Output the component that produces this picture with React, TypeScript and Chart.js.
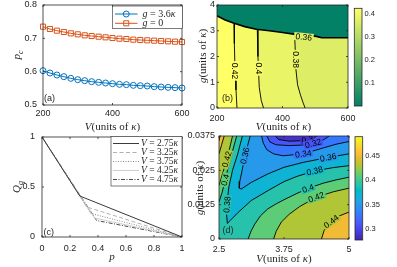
import React, { useEffect, useRef } from 'react';
import { Chart, registerables } from 'chart.js';

Chart.register(...registerables);

// ---------------- Panel (a) data ----------------
const vA = [200, 220, 240, 260, 280, 300, 320, 340, 360, 380, 400, 420, 440, 460, 480, 500, 520, 540, 560, 580, 600];
const pcG36 = [0.603, 0.596, 0.59, 0.585, 0.58, 0.576, 0.573, 0.57, 0.568, 0.566, 0.564, 0.562, 0.561, 0.559, 0.558, 0.557, 0.555, 0.554, 0.553, 0.552, 0.551];
const pcG0 = [0.735, 0.728, 0.723, 0.719, 0.715, 0.712, 0.709, 0.707, 0.705, 0.703, 0.701, 0.699, 0.698, 0.696, 0.695, 0.694, 0.693, 0.692, 0.691, 0.69, 0.689];
const seriesA = ['g = 3.6κ', 'g = 0'];
const ticksAX = [200, 400, 600];
const ticksAY = [0.5, 0.6, 0.7, 0.8];

// ---------------- Panel (b) data (contour lines, V vs g) ----------------
const bBoundary = [[200, 3.58], [225, 3.42], [250, 3.3], [285, 3.16], [320, 3.06], [360, 3.0], [400, 2.93], [440, 2.86], [470, 2.82], [500, 2.79], [520, 2.73], [600, 2.73]];
const bC042 = [[252, 3.29], [253, 2.5], [255, 1.5], [258, 0.7], [261, 0]];
const bC040 = [[323, 3.05], [325, 2.0], [329, 0.8], [335, 0.3], [342, 0]];
const bC038 = [[437, 2.865], [439, 2.2], [441, 1.5], [446, 0.9], [455, 0.5], [463, 0.2], [469, 0]];
// label: text, V, g, angle, band value behind
const bLabels = [['0.42', 255, 1.44, 90, 0.425], ['0.4', 326.5, 1.54, 90, 0.41], ['0.38', 440, 1.88, 90, 0.39], ['0.36', 465, 2.76, 6, 0.37]];
const ticksBX = [200, 400, 600];
const ticksBY = [0, 1, 2, 3, 4];
const cbB = [0, 0.426];
const cbBTicks = [0.1, 0.2, 0.3, 0.4];

// ---------------- Panel (c) data ----------------
const pEnds = [0, 1];
const qEnds = [1, 0];
const cKinkP = [0.27, 0.32, 0.35, 0.375, 0.39];
const cKinkQ = [0.41, 0.3, 0.235, 0.19, 0.165];
const seriesC = ['V = 2.75κ', 'V = 3.25κ', 'V = 3.75κ', 'V = 4.25κ', 'V = 4.75κ'];
const ticksCX = [0, 0.2, 0.4, 0.6, 0.8, 1];
const ticksCY = [0, 0.5, 1];

// ---------------- Panel (d) data (contour lines, V vs g) ----------------
const dC046L = [[2.5, 0.0357], [2.52, 0.0375]];
const dC044L = [[2.5, 0.031], [2.55, 0.0343], [2.6, 0.0375]];
const dC042L = [[2.5, 0.0195], [2.58, 0.0245], [2.65, 0.029], [2.71, 0.0335], [2.76, 0.0375]];
const dC040L = [[2.5, 0.0135], [2.56, 0.017], [2.62, 0.0215], [2.68, 0.0265], [2.76, 0.032], [2.84, 0.0375]];
const dC038 = [[2.95, 0.0375], [2.86, 0.031], [2.76, 0.025], [2.69, 0.019], [2.66, 0.014], [2.645, 0.009], [2.66, 0.0057], [2.72, 0.0068], [2.87, 0.0097], [3.12, 0.014], [3.44, 0.0176], [3.75, 0.0209], [4.0, 0.0228], [4.34, 0.0248], [4.7, 0.026], [5.0, 0.0267]];
const dC036 = [[3.1, 0.0375], [3.05, 0.034], [3.0, 0.0303], [2.95, 0.0255], [2.9, 0.021], [2.89, 0.0185], [2.93, 0.0182], [3.12, 0.0206], [3.44, 0.0237], [3.75, 0.0261], [4.12, 0.0279], [4.6, 0.0297], [5.0, 0.031]];
const dC034 = [[3.32, 0.0375], [3.35, 0.035], [3.42, 0.0325], [3.55, 0.031], [3.73, 0.0303], [4.12, 0.031], [4.44, 0.0328], [4.75, 0.0345], [5.0, 0.0355]];
const dC032 = [[3.42, 0.0375], [3.48, 0.0353], [3.6, 0.0343], [3.85, 0.034], [4.1, 0.0342], [4.31, 0.0348], [4.5, 0.036], [4.62, 0.0375]];
const dC030 = [[3.58, 0.0375], [3.65, 0.0362], [3.85, 0.0356], [4.1, 0.0358], [4.3, 0.0366], [4.38, 0.0375]];
const dC040B = [[3.06, 0], [3.12, 0.003], [3.19, 0.0055], [3.3, 0.0085], [3.44, 0.011], [3.6, 0.0128], [3.75, 0.0143], [4.0, 0.0166], [4.21, 0.0184], [4.5, 0.0203], [4.75, 0.0215], [5.0, 0.0225]];
const dC042B = [[3.55, 0], [3.6, 0.0028], [3.7, 0.0062], [3.85, 0.009], [4.05, 0.0118], [4.37, 0.0152], [4.7, 0.0172], [5.0, 0.0185]];
const dC044B = [[4.47, 0], [4.52, 0.003], [4.62, 0.0058], [4.8, 0.0083], [5.0, 0.0098]];
const dLabels = [
  ['0.3', 4.2, 0.0362, -12, 0.289], ['0.32', 4.31, 0.0348, -14, 0.31], ['0.34', 4.12, 0.031, -8, 0.33],
  ['0.36', 4.6, 0.0297, -10, 0.35], ['0.38', 4.34, 0.0248, -13, 0.37], ['0.4', 4.21, 0.0184, -18, 0.39],
  ['0.42', 4.37, 0.0152, -20, 0.41], ['0.44', 4.66, 0.0064, -38, 0.43], ['0.36', 3.0, 0.0303, -76, 0.35],
  ['0.42', 2.65, 0.029, -74, 0.43], ['0.4', 2.62, 0.0215, -76, 0.41], ['0.38', 2.655, 0.0125, -86, 0.39],
];
const ticksDX = [2.5, 3.75, 5];
const ticksDY = [0, 0.0125, 0.025, 0.0375];
const cbD = [0.278, 0.489];
const cbDTicks = [0.3, 0.35, 0.4, 0.45];

// ---------------- styling ----------------
const SANS = '"Liberation Sans", Arial, sans-serif';
const SERIF = '"Liberation Serif", "DejaVu Serif", serif';
const TXT = '#262626';
const FRAME = '#262626';
const BLUE = 'rgb(0,114,189)';
const ORANGE = 'rgb(217,83,25)';
const TICK_FONT = 9;

const PARULA = [
  [0.2422, 0.1504, 0.6603], [0.2647, 0.1978, 0.7952], [0.2783, 0.2559, 0.8991], [0.281, 0.3228, 0.9579],
  [0.2699, 0.3892, 0.9906], [0.2206, 0.4603, 0.9973], [0.1786, 0.5289, 0.9682], [0.154, 0.5902, 0.9218],
  [0.1248, 0.6459, 0.8883], [0.0689, 0.6948, 0.8394], [0.0067, 0.7312, 0.766], [0.1408, 0.7584, 0.6842],
  [0.2161, 0.7843, 0.5923], [0.3406, 0.8008, 0.4789], [0.5044, 0.7993, 0.348], [0.672, 0.7793, 0.2227],
  [0.8203, 0.7498, 0.1535], [0.9393, 0.7288, 0.21], [0.997, 0.7659, 0.2199], [0.9786, 0.8386, 0.1766],
  [0.9597, 0.9135, 0.1423], [0.9769, 0.9839, 0.0805],
];
const SUMMER = [[0, 0.5, 0.4], [1, 1, 0.4]];

function cmap(tab: number[][], t: number) {
  t = Math.max(0, Math.min(1, t));
  const f = t * (tab.length - 1);
  const i = Math.min(Math.floor(f), tab.length - 2);
  const u = f - i;
  const c = tab[i].map((v, k) => v + (tab[i + 1][k] - v) * u);
  return `rgb(${Math.round(c[0] * 255)},${Math.round(c[1] * 255)},${Math.round(c[2] * 255)})`;
}
const bandB = (v: number) => cmap(SUMMER, (v - cbB[0]) / (cbB[1] - cbB[0]));
const bandD = (v: number) => cmap(PARULA, (v - cbD[0]) / (cbD[1] - cbD[0]));

const fmt = (v: any) => String(parseFloat(Number(v).toPrecision(6)));

type Part = { t: string; it?: boolean; sub?: boolean };

function mathParts(s: string): Part[] {
  const out: Part[] = [];
  for (const ch of s) {
    const it = /[A-Za-zα-ω]/.test(ch);
    const last = out[out.length - 1];
    if (last && !last.it && !it) last.t += ch;
    else out.push({ t: ch, it });
  }
  return out;
}

function drawRich(ctx: any, parts: Part[], x: number, y: number, size: number, align: string, rot: number, fam?: string) {
  ctx.save();
  ctx.translate(x, y);
  if (rot) ctx.rotate((rot * Math.PI) / 180);
  const family = fam || SERIF;
  const fontOf = (p: Part) => `${p.it ? 'italic ' : ''}${p.sub ? Math.round(size * 0.72) : size}px ${family}`;
  let w = 0;
  for (const p of parts) {
    ctx.font = fontOf(p);
    w += ctx.measureText(p.t).width;
  }
  let cx = align === 'center' ? -w / 2 : align === 'right' ? -w : 0;
  ctx.textBaseline = 'middle';
  ctx.textAlign = 'left';
  ctx.fillStyle = TXT;
  for (const p of parts) {
    ctx.font = fontOf(p);
    ctx.fillText(p.t, cx, p.sub ? size * 0.32 : 0);
    cx += ctx.measureText(p.t).width;
  }
  ctx.restore();
}

type RText = { parts: Part[]; x: number; y: number; rot?: number; size: number; align?: string; fam?: string };
type Leg = { box: number[]; rows: { y: number; ds: number }[]; lx: number[]; tx: number; size: number };
type Deco = { ox: number; oy: number; ticksX?: number[]; ticksY?: number[]; tl?: number; labels?: any[]; labelBg?: (v: number) => string; texts?: RText[]; legend?: Leg; frame?: boolean };

function decor(d: Deco) {
  return {
    id: 'decor',
    afterDraw(chart: any) {
      const ctx = chart.ctx;
      const ca = chart.chartArea;
      const xs = chart.scales.x;
      const ys = chart.scales.y;
      ctx.save();
      if (d.labels) {
        ctx.save();
        ctx.beginPath();
        ctx.rect(ca.left, ca.top, ca.right - ca.left, ca.bottom - ca.top);
        ctx.clip();
        ctx.font = `8.5px ${SANS}`;
        ctx.textAlign = 'center';
        ctx.textBaseline = 'middle';
        for (const [t, x, y, a, lv] of d.labels) {
          const px = xs.getPixelForValue(x);
          const py = ys.getPixelForValue(y);
          ctx.save();
          ctx.translate(px, py);
          ctx.rotate((a * Math.PI) / 180);
          const w = ctx.measureText(t).width;
          ctx.fillStyle = d.labelBg ? d.labelBg(lv) : '#fff';
          ctx.fillRect(-w / 2 - 1.5, -4, w + 3, 8);
          ctx.fillStyle = '#000';
          ctx.fillText(t, 0, 0.5);
          ctx.restore();
        }
        ctx.restore();
      }
      if (d.frame !== false) {
        ctx.strokeStyle = FRAME;
        ctx.lineWidth = 0.8;
        ctx.strokeRect(ca.left, ca.top, ca.right - ca.left, ca.bottom - ca.top);
        const tl = d.tl ?? 2;
        ctx.beginPath();
        (d.ticksX || []).forEach((v) => {
          const x = xs.getPixelForValue(v);
          ctx.moveTo(x, ca.bottom); ctx.lineTo(x, ca.bottom - tl);
          ctx.moveTo(x, ca.top); ctx.lineTo(x, ca.top + tl);
        });
        (d.ticksY || []).forEach((v) => {
          const y = ys.getPixelForValue(v);
          ctx.moveTo(ca.left, y); ctx.lineTo(ca.left + tl, y);
          ctx.moveTo(ca.right, y); ctx.lineTo(ca.right - tl, y);
        });
        ctx.stroke();
      }
      if (d.legend) {
        const L = d.legend;
        const x1 = L.box[0] - d.ox, y1 = L.box[1] - d.oy, x2 = L.box[2] - d.ox, y2 = L.box[3] - d.oy;
        ctx.fillStyle = '#fff';
        ctx.fillRect(x1, y1, x2 - x1, y2 - y1);
        ctx.strokeStyle = FRAME;
        ctx.lineWidth = 0.6;
        ctx.strokeRect(x1, y1, x2 - x1, y2 - y1);
        for (const r of L.rows) {
          const ds = chart.data.datasets[r.ds];
          const y = r.y - d.oy;
          const lx1 = L.lx[0] - d.ox, lx2 = L.lx[1] - d.ox;
          ctx.save();
          ctx.strokeStyle = ds.borderColor;
          ctx.lineWidth = ds.borderWidth;
          ctx.setLineDash(ds.borderDash || []);
          ctx.beginPath(); ctx.moveTo(lx1, y); ctx.lineTo(lx2, y); ctx.stroke();
          ctx.setLineDash([]);
          if (ds.pointRadius > 0) {
            const mx = (lx1 + lx2) / 2;
            const r0 = ds.pointRadius;
            ctx.lineWidth = ds.pointBorderWidth || 1;
            ctx.beginPath();
            if (ds.pointStyle === 'rect') {
              const s = r0 * Math.SQRT1_2;
              ctx.rect(mx - s, y - s, 2 * s, 2 * s);
            } else ctx.arc(mx, y, r0, 0, Math.PI * 2);
            ctx.stroke();
          }
          ctx.restore();
          drawRich(ctx, mathParts(ds.label), L.tx - d.ox, y, L.size, 'left', 0);
        }
      }
      for (const r of d.texts || []) drawRich(ctx, r.parts, r.x - d.ox, r.y - d.oy, r.size, r.align || 'center', r.rot || 0, r.fam);
      ctx.restore();
    },
  };
}

function axis(o: { min: number; max: number; ticks: number[]; size: number; pad: number; pos: string; font?: number }) {
  return {
    type: 'linear',
    position: o.pos,
    min: o.min,
    max: o.max,
    grid: { display: false, drawTicks: false },
    border: { display: false },
    ticks: { padding: o.pad, color: TXT, font: { family: SANS, size: o.font ?? TICK_FONT }, autoSkip: false, maxRotation: 0, minRotation: 0, callback: (v: any) => fmt(v) },
    afterBuildTicks: (s: any) => { s.ticks = o.ticks.map((value) => ({ value })); },
    afterFit: (s: any) => {
      if (s.isHorizontal()) s.height = o.size; else s.width = o.size;
      s.paddingLeft = 0; s.paddingRight = 0; s.paddingTop = 0; s.paddingBottom = 0;
    },
  };
}

const baseOpts = (padding: any, scales: any) => ({
  animation: false,
  responsive: false,
  devicePixelRatio: 1,
  events: [],
  layout: { padding },
  plugins: { legend: { display: false }, tooltip: { enabled: false } },
  scales,
});

const pts = (a: number[][]) => a.map(([x, y]) => ({ x, y }));
function polyData(a: number[][]) {
  let iMin = 0, iMax = 0;
  a.forEach((p, i) => { if (p[0] < a[iMin][0]) iMin = i; if (p[0] > a[iMax][0]) iMax = i; });
  const rot = a.slice(iMin).concat(a.slice(0, iMin));
  return pts(rot.concat([a[iMin], a[iMax]]));
}
const fillDs = (poly: number[][], color: string, order: number) => ({
  data: polyData(poly), fill: 'shape', backgroundColor: color, borderColor: 'rgba(0,0,0,0)', borderWidth: 0,
  pointRadius: 0, order, clip: false, tension: 0,
});
const lineDs = (a: number[][], w = 0.9) => ({
  data: pts(a), fill: false, borderColor: '#000', borderWidth: w, pointRadius: 0, order: 0, tension: 0,
});

const T_V: Part[] = [{ t: 'V', it: true }, { t: '(units of ' }, { t: 'κ', it: true }, { t: ')' }];
const T_G: Part[] = [{ t: 'g', it: true }, { t: '(units of ' }, { t: 'κ', it: true }, { t: ')' }];
const T_PC: Part[] = [{ t: 'p', it: true }, { t: 'c', it: true, sub: true }];
const T_QQ: Part[] = [{ t: 'Q', it: true }, { t: 'q', it: true, sub: true }];
const T_P: Part[] = [{ t: 'p', it: true }];

function configA() {
  const ox = 0, oy = 0;
  return {
    type: 'line',
    data: {
      datasets: [
        { label: seriesA[0], data: vA.map((x, i) => ({ x, y: pcG36[i] })), borderColor: BLUE, borderWidth: 1, pointStyle: 'circle', pointRadius: 3, pointBorderWidth: 1, pointBorderColor: BLUE, pointBackgroundColor: 'rgba(0,0,0,0)', clip: false, fill: false },
        { label: seriesA[1], data: vA.map((x, i) => ({ x, y: pcG0[i] })), borderColor: ORANGE, borderWidth: 1, pointStyle: 'rect', pointRadius: 3.6, pointBorderWidth: 1, pointBorderColor: ORANGE, pointBackgroundColor: 'rgba(0,0,0,0)', clip: false, fill: false },
      ],
    },
    options: baseOpts({ left: 0, right: 18, top: 5, bottom: 0 }, {
      x: axis({ min: 200, max: 600, ticks: ticksAX, size: 30, pad: 3.5, pos: 'bottom' }),
      y: axis({ min: 0.5, max: 0.8, ticks: ticksAY, size: 43, pad: 6, pos: 'left' }),
    }),
    plugins: [decor({
      ox, oy, ticksX: ticksAX, ticksY: ticksAY,
      legend: { box: [112.5, 6, 182.5, 28.5], rows: [{ y: 14, ds: 0 }, { y: 23.3, ds: 1 }], lx: [115, 137.5], tx: 142.5, size: 10 },
      texts: [
        { parts: T_V, x: 112.5, y: 127.5, size: 11 },
        { parts: T_PC, x: 17, y: 55, size: 11, rot: -90 },
        { parts: [{ t: '(a)' }], x: 44, y: 98.5, size: 9, align: 'left', fam: SANS },
      ],
    })],
  };
}

function configB() {
  const ox = 190, oy = 0;
  const fills = [
    fillDs([[200, 0], [600, 0], [600, 4], [200, 4]], bandB(0.005), 30),
    fillDs([...bBoundary, [600, 0], [200, 0]], bandB(0.37), 29),
    fillDs([[200, 0], ...bBoundary.filter((p) => p[0] < bC038[0][0]), ...bC038], bandB(0.39), 28),
    fillDs([[200, 0], ...bBoundary.filter((p) => p[0] < bC040[0][0]), ...bC040], bandB(0.41), 27),
    fillDs([[200, 0], ...bBoundary.filter((p) => p[0] < bC042[0][0]), ...bC042], bandB(0.426), 26),
  ];
  const lines = [lineDs(bBoundary, 1.6), lineDs(bC042), lineDs(bC040), lineDs(bC038)];
  return {
    type: 'line',
    data: { datasets: [...lines, ...fills] },
    options: baseOpts({ left: 0, right: 17, top: 5, bottom: 0 }, {
      x: axis({ min: 200, max: 600, ticks: ticksBX, size: 27, pad: 5, pos: 'bottom' }),
      y: axis({ min: 0, max: 4, ticks: ticksBY, size: 27, pad: 2, pos: 'left' }),
    }),
    plugins: [decor({
      ox, oy, ticksX: ticksBX, ticksY: ticksBY, labels: bLabels, labelBg: bandB,
      texts: [
        { parts: T_V, x: 283.5, y: 127.5, size: 11 },
        { parts: T_G, x: 203, y: 56, size: 11, rot: -90 },
        { parts: [{ t: '(b)' }], x: 222, y: 99, size: 9, align: 'left', fam: SANS },
      ],
    })],
  };
}

function configC() {
  const ox = 0, oy = 130;
  const styles = [
    { c: '#3a3a3a', d: [] },
    { c: '#b0b0b0', d: [4, 2.5] },
    { c: '#8a8a8a', d: [1, 1.5] },
    { c: '#cfcfcf', d: [] },
    { c: '#4a4a4a', d: [4, 1.5, 1, 1.5] },
  ];
  const datasets = seriesC.map((name, i) => ({
    label: name,
    data: pts([[pEnds[0], qEnds[0]], [cKinkP[i], cKinkQ[i]], [pEnds[1], qEnds[1]]]),
    borderColor: styles[i].c, borderDash: styles[i].d, borderWidth: 1, pointRadius: 0, fill: false, tension: 0,
  }));
  return {
    type: 'line',
    data: { datasets },
    options: baseOpts({ left: 0, right: 18, top: 7, bottom: 0 }, {
      x: axis({ min: 0, max: 1, ticks: ticksCX, size: 30, pad: 6.5, pos: 'bottom' }),
      y: axis({ min: 0, max: 1, ticks: ticksCY, size: 42, pad: 7, pos: 'left' }),
    }),
    plugins: [decor({
      ox, oy, ticksX: ticksCX, ticksY: ticksCY,
      legend: { box: [111, 136.5, 182, 186], rows: [0, 1, 2, 3, 4].map((i) => ({ y: 143.5 + 9 * i, ds: i })), lx: [113, 139], tx: 141, size: 9.5 },
      texts: [
        { parts: T_P, x: 112, y: 257.5, size: 11 },
        { parts: T_QQ, x: 17, y: 187, size: 11, rot: -90 },
        { parts: [{ t: '(c)' }], x: 43.5, y: 232.5, size: 9, align: 'left', fam: SANS },
      ],
    })],
  };
}

function configD() {
  const ox = 180, oy = 130;
  const TL = [2.5, 0.0375];
  const BR = [5, 0];
  const TR = [5, 0.0375];
  const fills = [
    fillDs([[2.5, 0], [5, 0], [5, 0.0375], [2.5, 0.0375]], bandD(0.39), 30),
    fillDs([...dC040B, BR], bandD(0.41), 29),
    fillDs([...dC042B, BR], bandD(0.43), 28),
    fillDs([...dC044B, BR], bandD(0.45), 27),
    fillDs([...dC040L, TL], bandD(0.41), 29),
    fillDs([...dC042L, TL], bandD(0.43), 28),
    fillDs([...dC044L, TL], bandD(0.45), 27),
    fillDs([...dC046L, TL], bandD(0.47), 26),
    fillDs([...dC038, TR], bandD(0.37), 29),
    fillDs([...dC036, TR], bandD(0.35), 28),
    fillDs([...dC034, TR], bandD(0.33), 27),
    fillDs(dC032, bandD(0.31), 26),
    fillDs(dC030, bandD(0.289), 25),
  ];
  const lines = [dC030, dC032, dC034, dC036, dC038, dC040L, dC040B, dC042L, dC042B, dC044L, dC044B, dC046L].map((c) => lineDs(c));
  return {
    type: 'line',
    data: { datasets: [...lines, ...fills] },
    options: baseOpts({ left: 0, right: 16, top: 6, bottom: 0 }, {
      x: axis({ min: 2.5, max: 5, ticks: ticksDX, size: 28, pad: 5.5, pos: 'bottom' }),
      y: axis({ min: 0, max: 0.0375, ticks: ticksDY, size: 39, pad: 4, pos: 'left' }),
    }),
    plugins: [decor({
      ox, oy, ticksX: ticksDX, ticksY: ticksDY, labels: dLabels, labelBg: bandD,
      texts: [
        { parts: T_V, x: 284, y: 259, size: 11 },
        { parts: T_G, x: 200.5, y: 188, size: 11, rot: -90 },
        { parts: [{ t: '(d)' }], x: 222.5, y: 230.5, size: 9, align: 'left', fam: SANS },
      ],
    })],
  };
}

function configBar(range: number[], ticks: number[], tab: number[][], padding: any, axisW: number, ox: number, oy: number) {
  return {
    type: 'bar',
    data: {
      labels: [''],
      datasets: [{
        data: [range],
        backgroundColor: (c: any) => {
          const ca = c.chart.chartArea;
          if (!ca) return 'rgba(0,0,0,0)';
          const g = c.chart.ctx.createLinearGradient(0, ca.bottom, 0, ca.top);
          const n = 40;
          for (let i = 0; i <= n; i++) g.addColorStop(i / n, cmap(tab, i / n));
          return g;
        },
        barPercentage: 1, categoryPercentage: 1, borderWidth: 0, inflateAmount: 0,
      }],
    },
    options: baseOpts(padding, {
      x: { display: false },
      y: axis({ min: range[0], max: range[1], ticks, size: axisW, pad: 2.5, pos: 'right', font: 7.5 }),
    }),
    plugins: [decor({ ox, oy })],
  };
}

export default function App() {
  const rA = useRef<HTMLCanvasElement>(null);
  const rB = useRef<HTMLCanvasElement>(null);
  const rBc = useRef<HTMLCanvasElement>(null);
  const rC = useRef<HTMLCanvasElement>(null);
  const rD = useRef<HTMLCanvasElement>(null);
  const rDc = useRef<HTMLCanvasElement>(null);

  useEffect(() => {
    const charts = [
      new Chart(rA.current as any, configA() as any),
      new Chart(rB.current as any, configB() as any),
      new Chart(rBc.current as any, configBar(cbB, cbBTicks, SUMMER, { left: 14.3, right: 0, top: 8.3, bottom: 29 }, 35, 340, 0) as any),
      new Chart(rC.current as any, configC() as any),
      new Chart(rD.current as any, configD() as any),
      new Chart(rDc.current as any, configBar(cbD, cbDTicks, PARULA, { left: 15, right: 0, top: 6.7, bottom: 27 }, 34.3, 340, 130) as any),
    ];
    return () => charts.forEach((c) => c.destroy());
  }, []);

  const abs = (l: number, t: number) => ({ position: 'absolute' as const, left: l, top: t });
  return (
    <div style={{ position: 'fixed', left: 0, top: 0, width: 397, height: 267, background: '#fff', overflow: 'hidden' }}>
      <canvas ref={rA} width={200} height={135} style={abs(0, 0)} />
      <canvas ref={rB} width={175} height={135} style={abs(190, 0)} />
      <canvas ref={rBc} width={57} height={135} style={abs(340, 0)} />
      <canvas ref={rC} width={200} height={137} style={abs(0, 130)} />
      <canvas ref={rD} width={185} height={137} style={abs(180, 130)} />
      <canvas ref={rDc} width={57} height={137} style={abs(340, 130)} />
    </div>
  );
}
